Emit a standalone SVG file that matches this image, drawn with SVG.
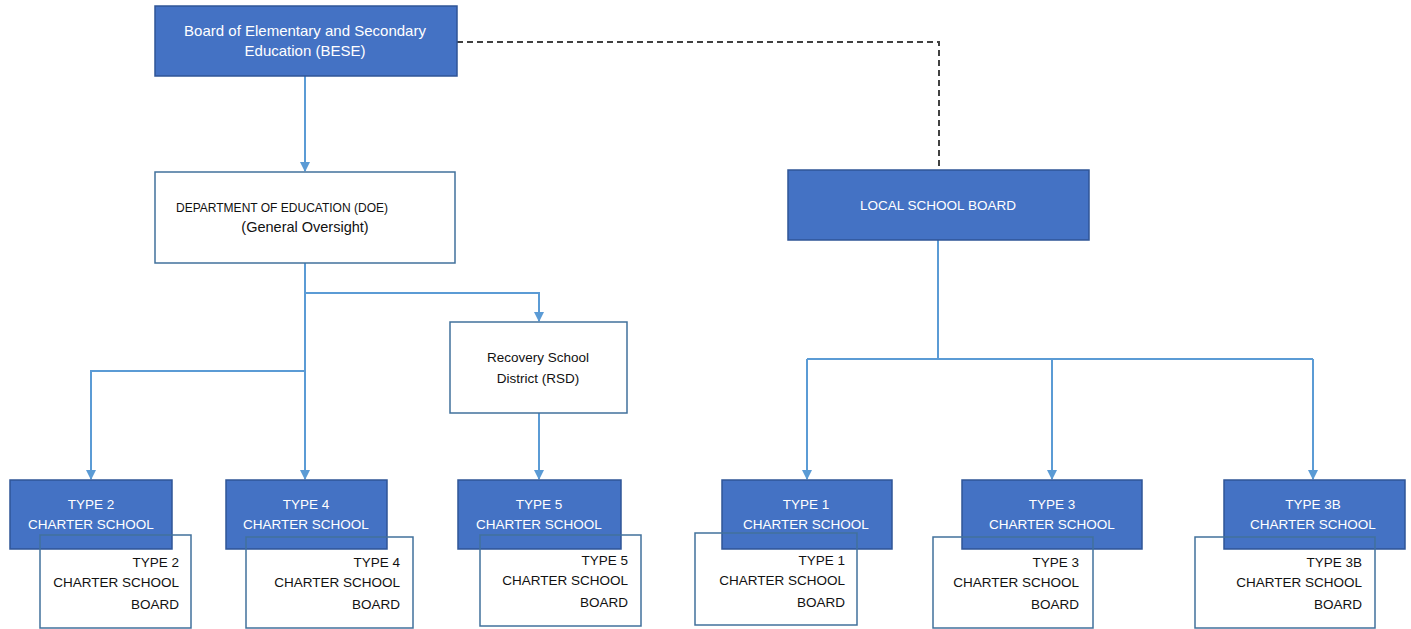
<svg xmlns="http://www.w3.org/2000/svg" width="1411" height="629" viewBox="0 0 1411 629">
<style>
.fill{fill:#4472C4;stroke:#2F5597;stroke-width:1.5}
.wbox{fill:#fff;stroke:#41719C;stroke-width:1.5}
.wbox2{fill:none;stroke:#41719C;stroke-width:1.5}
.tw{font-family:"Liberation Sans",Arial,sans-serif;font-size:13.5px;fill:#fff;text-anchor:middle}
.tb{font-family:"Liberation Sans",Arial,sans-serif;font-size:13.5px;fill:#111;text-anchor:middle}
.tr{font-family:"Liberation Sans",Arial,sans-serif;font-size:13.5px;fill:#111;text-anchor:end}
.big{font-size:15px}
.conn{fill:none;stroke:#5B9BD5;stroke-width:2}
.dash{fill:none;stroke:#404040;stroke-width:2;stroke-dasharray:6 4}
</style>
<defs>
<marker id="ah" markerWidth="10" markerHeight="10" refX="9" refY="5" orient="auto" markerUnits="userSpaceOnUse" viewBox="0 0 10 10">
<path d="M0,0 L10,5 L0,10 Z" fill="#5B9BD5"/>
</marker>
</defs>
<g id="connectors">
<path class="conn" d="M305,76 V171" marker-end="url(#ah)"/>
<path class="conn" d="M305,263 V479" marker-end="url(#ah)"/>
<path class="conn" d="M305,293 H539 V321" marker-end="url(#ah)"/>
<path class="conn" d="M305,371 H91 V479" marker-end="url(#ah)"/>
<path class="conn" d="M539,413 V479" marker-end="url(#ah)"/>
<path class="conn" d="M938,240 V359"/>
<path class="conn" d="M807,359 H1313"/>
<path class="conn" d="M807,359 V479" marker-end="url(#ah)"/>
<path class="conn" d="M1052,359 V479" marker-end="url(#ah)"/>
<path class="conn" d="M1313,359 V479" marker-end="url(#ah)"/>
<path class="dash" d="M457,42 H939 V170"/>
</g>
<g id="bese">
<rect class="fill" x="155" y="6" width="302" height="70"/>
<text class="tw big" x="305" y="36">Board of Elementary and Secondary</text>
<text class="tw big" x="305" y="56">Education (BESE)</text>
</g>
<g id="doe">
<rect class="wbox" x="155" y="172" width="300" height="91"/>
<text class="tb" x="282" y="212" style="font-size:13px" textLength="212" lengthAdjust="spacingAndGlyphs">DEPARTMENT OF EDUCATION (DOE)</text>
<text class="tb" x="305" y="232" style="font-size:14.5px">(General Oversight)</text>
</g>
<g id="local">
<rect class="fill" x="788" y="170" width="301" height="70"/>
<text class="tw" x="938" y="210">LOCAL SCHOOL BOARD</text>
</g>
<g id="rsd">
<rect class="wbox" x="450" y="322" width="177" height="91"/>
<text class="tb" x="538" y="362">Recovery School</text>
<text class="tb" x="538" y="383">District (RSD)</text>
</g>
<g id="type2">
<rect class="fill" x="10" y="480" width="162" height="69"/>
<text class="tw" x="91" y="509">TYPE 2</text>
<text class="tw" x="91" y="529">CHARTER SCHOOL</text>
</g>
<g id="type2board">
<rect class="wbox2" x="40" y="535" width="151" height="93"/>
<text class="tr" x="179" y="567">TYPE 2</text>
<text class="tr" x="179" y="587">CHARTER SCHOOL</text>
<text class="tr" x="179" y="609">BOARD</text>
</g>
<g id="type4">
<rect class="fill" x="226" y="480" width="161" height="69"/>
<text class="tw" x="306" y="509">TYPE 4</text>
<text class="tw" x="306" y="529">CHARTER SCHOOL</text>
</g>
<g id="type4board">
<rect class="wbox2" x="246" y="537" width="167" height="91"/>
<text class="tr" x="400" y="567">TYPE 4</text>
<text class="tr" x="400" y="587">CHARTER SCHOOL</text>
<text class="tr" x="400" y="609">BOARD</text>
</g>
<g id="type5">
<rect class="fill" x="458" y="480" width="163" height="69"/>
<text class="tw" x="539" y="509">TYPE 5</text>
<text class="tw" x="539" y="529">CHARTER SCHOOL</text>
</g>
<g id="type5board">
<rect class="wbox2" x="480" y="535" width="161" height="91"/>
<text class="tr" x="628" y="565">TYPE 5</text>
<text class="tr" x="628" y="585">CHARTER SCHOOL</text>
<text class="tr" x="628" y="607">BOARD</text>
</g>
<g id="type1">
<rect class="fill" x="722" y="480" width="170" height="69"/>
<text class="tw" x="806" y="509">TYPE 1</text>
<text class="tw" x="806" y="529">CHARTER SCHOOL</text>
</g>
<g id="type1board">
<rect class="wbox2" x="695" y="533" width="162" height="92"/>
<text class="tr" x="845" y="565">TYPE 1</text>
<text class="tr" x="845" y="585">CHARTER SCHOOL</text>
<text class="tr" x="845" y="607">BOARD</text>
</g>
<g id="type3">
<rect class="fill" x="962" y="480" width="180" height="69"/>
<text class="tw" x="1052" y="509">TYPE 3</text>
<text class="tw" x="1052" y="529">CHARTER SCHOOL</text>
</g>
<g id="type3board">
<rect class="wbox2" x="933" y="537" width="160" height="91"/>
<text class="tr" x="1079" y="567">TYPE 3</text>
<text class="tr" x="1079" y="587">CHARTER SCHOOL</text>
<text class="tr" x="1079" y="609">BOARD</text>
</g>
<g id="type3b">
<rect class="fill" x="1224" y="480" width="181" height="69"/>
<text class="tw" x="1313" y="509">TYPE 3B</text>
<text class="tw" x="1313" y="529">CHARTER SCHOOL</text>
</g>
<g id="type3bboard">
<rect class="wbox2" x="1195" y="537" width="180" height="91"/>
<text class="tr" x="1362" y="567">TYPE 3B</text>
<text class="tr" x="1362" y="587">CHARTER SCHOOL</text>
<text class="tr" x="1362" y="609">BOARD</text>
</g>
</svg>
